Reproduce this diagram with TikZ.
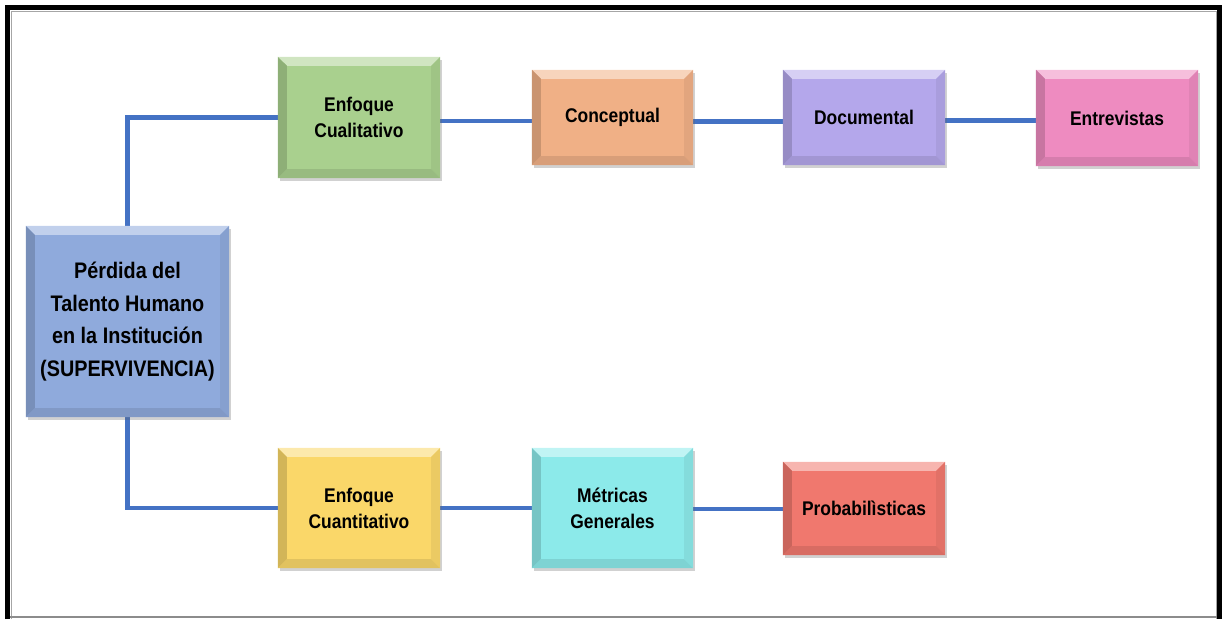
\documentclass[tikz,border=0pt]{standalone}
\usepackage{fontspec}
\setmainfont{Liberation Sans}[FakeStretch=0.88]
\usetikzlibrary{shadows,backgrounds}
\definecolor{cblue}{RGB}{143,170,220}
\definecolor{cgreen}{RGB}{169,208,142}
\definecolor{corange}{RGB}{240,176,134}
\definecolor{clav}{RGB}{180,167,235}
\definecolor{cpink}{RGB}{238,139,192}
\definecolor{cyellow}{RGB}{250,215,105}
\definecolor{ccyan}{RGB}{140,234,234}
\definecolor{csalmon}{RGB}{240,120,110}
\definecolor{connblue}{RGB}{68,114,196}
\newcommand\bv{9}
\tikzset{
  bbox/.style={draw=none, inner sep=0pt, align=center,
    font=\bfseries\fontsize{19.8}{26}\selectfont,
    drop shadow={shadow xshift=2pt, shadow yshift=-3pt, opacity=0.3, fill=black!60}},
  bigtext/.style={font=\bfseries\fontsize{22.5}{32.5}\selectfont},
  conn/.style={draw=connblue, line width=4.5pt},
  framebar/.style={draw=black, line width=5pt},
}
\newcommand\bevbox[8][]{%
  \node[bbox, fill=#7, minimum width=#5pt, minimum height=#6pt, #1] (#2) at (#3,#4) {#8};
  \fill[#7!55!white] (#2.north west) -- (#2.north east) -- ([shift={(-\bv,\bv)}]#2.north east) -- ([shift={(\bv,\bv)}]#2.north west) -- cycle;
  \fill[#7!84!black] (#2.north west) -- ([shift={(\bv,\bv)}]#2.north west) -- ([shift={(\bv,-\bv)}]#2.south west) -- (#2.south west) -- cycle;
  \fill[#7!94!black] (#2.north east) -- ([shift={(-\bv,\bv)}]#2.north east) -- ([shift={(-\bv,-\bv)}]#2.south east) -- (#2.south east) -- cycle;
  \fill[#7!90!black] (#2.south west) -- ([shift={(\bv,-\bv)}]#2.south west) -- ([shift={(-\bv,-\bv)}]#2.south east) -- (#2.south east) -- cycle;
}
\begin{document}
\begin{tikzpicture}[x=1pt, y=-1pt]
\useasboundingbox (0,0) rectangle (1223,619);
% frame
\draw[black!35, line width=1pt] (11,619) -- (11,11) -- (1216,11) -- (1216,619);
\draw[black!45, line width=1.5pt] (10,617.2) -- (1217,617.2);
\draw[framebar] (7.5,619) -- (7.5,7.5) -- (1219,7.5) -- (1219,619);
% boxes
\bevbox[bigtext]{main}{127.5}{321.5}{203}{191}{cblue}{Pérdida del\\Talento Humano\\en la Institución\\(SUPERVIVENCIA)}
\bevbox{qual}{359}{117.5}{162}{121}{cgreen}{Enfoque\\Cualitativo}
\bevbox{conc}{612.5}{117.5}{161}{95}{corange}{Conceptual}
\bevbox{doc}{864}{117.5}{162}{95}{clav}{Documental}
\bevbox{entr}{1117}{118}{162}{96}{cpink}{Entrevistas}
\bevbox{cuan}{359}{508}{162}{120}{cyellow}{Enfoque\\Cuantitativo}
\bevbox{metr}{612.5}{508}{161}{120}{ccyan}{Métricas\\Generales}
\bevbox{prob}{864}{508.5}{162}{93}{csalmon}{Probabilìsticas}
% connectors
\begin{scope}[on background layer]
\draw[conn] (main.north) |- (qual.west);
\draw[conn] ([yshift=-3.5pt]qual.east) -- ([yshift=-3.5pt]qual.east -| conc.west);
\draw[conn] ([yshift=-4pt]conc.east) -- ([yshift=-4pt]conc.east -| doc.west);
\draw[conn] ([yshift=-3pt]doc.east) -- ([yshift=-3pt]doc.east -| entr.west);
\draw[conn] (main.south) |- (cuan.west);
\draw[conn] (cuan.east) -- (metr.west);
\draw[conn] ([yshift=-1pt]metr.east) -- ([yshift=-1pt]metr.east -| prob.west);
\end{scope}
\end{tikzpicture}
\end{document}
